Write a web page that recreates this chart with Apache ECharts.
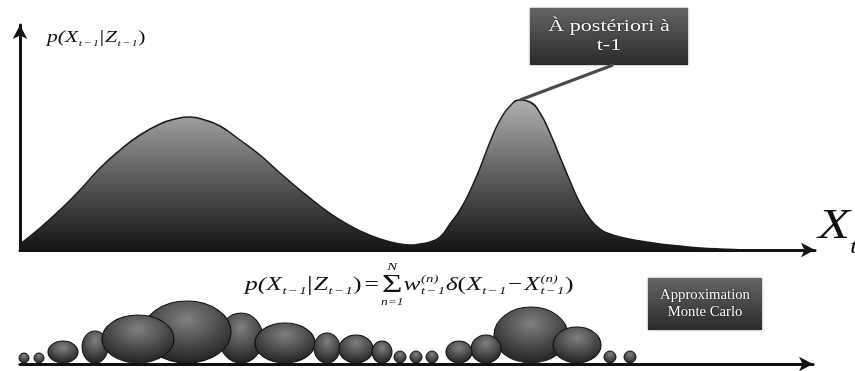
<!DOCTYPE html>
<html>
<head>
<meta charset="utf-8">
<script src="https://cdn.jsdelivr.net/npm/echarts@6/dist/echarts.min.js"></script>
<style>
html, body { margin: 0; padding: 0; background: #fff; }
#main { width: 855px; height: 371px; }
</style>
</head>
<body>
<div id="main"></div>
<script>
// densite a posteriori p(X|Z) : position sur l'axe, hauteur
var curveX = [0, 20, 40, 60, 80, 100, 120, 140, 155, 170, 185, 200, 220, 240, 260, 280, 300, 320, 340, 360, 380, 390, 400,
    410, 420, 430, 440, 450, 460, 470, 480, 490, 500, 510, 520, 530, 540, 550, 560, 570, 580, 590, 600,
    620, 640, 660, 680, 700, 740, 795];
var curveY = [6, 22, 40, 60, 82, 100, 115, 126, 131, 133, 130, 124, 110, 95, 77, 60, 44, 30, 19, 11, 6, 5, 6,
    8, 13, 26, 40, 59, 82, 108, 130, 144, 150, 148, 137, 117, 93, 69, 47, 31, 21, 16, 13,
    9, 6, 4, 2, 1, 0, 0];

// particules (Monte Carlo) : position, poids (hauteur), etalement (largeur)
var particleX = [221, 167, 75, 118, 265, 307, 336, 362, 43, 4, 19, 380, 396, 412, 511, 466, 439, 557, 590, 610];
var particleW = [50, 62, 32, 48, 40, 30, 28, 22, 22, 10, 10, 12, 12, 12, 56, 28, 22, 36, 12, 12];
var particleS = [44, 88, 26, 72, 60, 26, 34, 20, 30, 10, 10, 12, 12, 12, 74, 30, 26, 48, 12, 12];

var topLabel = ['À postériori à', 't-1'];
var bottomLabel = ['Approximation', 'Monte Carlo'];

window.onload = function () {
    var chart = echarts.init(document.getElementById('main'));
    var ctx = document.createElement('canvas').getContext('2d');
    var SERIF = '"Liberation Serif", "DejaVu Serif", serif';
    var SX = 1.35; // l'image d'origine est etiree en largeur
    var SUB = 't\u200A−\u200A1';

    function fontOf(size, up) {
        return (up ? '' : 'italic ') + size + 'px ' + SERIF;
    }
    function measure(t, size, up) {
        ctx.font = fontOf(size, up);
        return ctx.measureText(t).width * SX;
    }
    function txt(x, base, t, size, up, align) {
        return {
            type: 'text', x: x, y: base - 0.32 * size, scaleX: SX, silent: true,
            style: {
                text: t, fill: '#111', font: fontOf(size, up),
                align: align || 'left', verticalAlign: 'middle'
            }
        };
    }
    // petite mise en page de formule
    function row(x, base, k, parts, out) {
        parts.forEach(function (p) {
            var size = (p.size || 19) * k;
            var small = 11 * k;
            var w = measure(p.t, size, p.up);
            out.push(txt(x, base + (p.dy || 0) * k, p.t, size, p.up));
            if (p.over) out.push(txt(x + w / 2, base - 20 * k, p.over, small, false, 'center'));
            if (p.under) out.push(txt(x + w / 2, base + 15 * k, p.under, 10 * k, false, 'center'));
            var extra = 0;
            if (p.sub) {
                out.push(txt(x + w + 0.5, base + 4 * k, p.sub, small));
                extra = Math.max(extra, measure(p.sub, small) + 1);
            }
            if (p.sup) {
                out.push(txt(x + w + 0.5, base - 8 * k, p.sup, small));
                extra = Math.max(extra, measure(p.sup, small) + 1);
            }
            x += w + extra + (p.gap || 0) * k;
        });
        return x;
    }

    var graphics = [];
    var lhs = [
        { t: 'p(', up: false }, { t: 'X', sub: SUB }, { t: '|', size: 21, up: true, gap: 1 },
        { t: 'Z', sub: SUB }, { t: ')', up: true }
    ];
    row(47, 43, 16 / 19, lhs, graphics);
    row(245, 291, 1, lhs.concat([
        { t: '', gap: 3 }, { t: '=', up: true, gap: 3 },
        { t: 'Σ', size: 26, up: true, dy: 2, over: 'N', under: 'n=1', gap: 1 },
        { t: 'w', sub: SUB, sup: '(n)' }, { t: 'δ' }, { t: '(', up: true }, { t: 'X', sub: SUB, gap: 1 },
        { t: '−', up: true, gap: 2 }, { t: 'X', sub: SUB, sup: '(n)' }, { t: ')', up: true }
    ]), graphics);
    graphics.push(Object.assign(txt(818, 240, 'X', 42), { scaleX: 1.25 }));
    graphics.push(txt(850, 254, 't', 20));

    function box(x, y, w, h, lines, size, lh, sx) {
        graphics.push({
            type: 'rect', shape: { x: x, y: y, width: w, height: h }, silent: true,
            style: {
                fill: new echarts.graphic.LinearGradient(0, 0, 0, 1, [
                    { offset: 0, color: '#656565' }, { offset: 1, color: '#2a2a2a' }
                ]),
                shadowBlur: 2, shadowColor: 'rgba(0,0,0,0.5)'
            }
        });
        var y0 = y + h / 2 - (lines.length - 1) * lh / 2;
        lines.forEach(function (l, i) {
            graphics.push({
                type: 'text', x: x + w / 2, y: y0 + i * lh, scaleX: sx, silent: true,
                style: {
                    text: l, fill: '#fff', font: size + 'px ' + SERIF,
                    align: 'center', verticalAlign: 'middle',
                    textShadowColor: '#000', textShadowBlur: 2
                }
            });
        });
    }
    box(530, 8, 158, 57, topLabel, 17, 19, 1.3);
    box(648, 278, 114, 52, bottomLabel, 14, 17, 1.05);

    var curveData = curveX.map(function (x, i) { return [x, curveY[i]]; });
    var particleData = particleX.map(function (x, i) {
        return { value: [x, particleW[i] / 2 + 1], symbolSize: [particleS[i], particleW[i]] };
    });

    var arrowAxis = function (grid) {
        return {
            gridIndex: grid, type: 'value', min: 0,
            axisLabel: { show: false }, axisTick: { show: false }, splitLine: { show: false },
            axisLine: { show: true, symbol: ['none', 'arrow'], symbolSize: [11, 14], lineStyle: { color: '#111', width: 3 } }
        };
    };

    var option = {
        animation: false,
        backgroundColor: '#fff',
        grid: [
            { left: 20, top: 25, width: 795, height: 225 },
            { left: 20, top: 284, width: 793, height: 80 }
        ],
        xAxis: [
            Object.assign(arrowAxis(0), { max: 795 }),
            Object.assign(arrowAxis(1), { max: 793 })
        ],
        yAxis: [
            Object.assign(arrowAxis(0), { max: 225 }),
            { gridIndex: 1, type: 'value', min: 0, max: 80, show: false }
        ],
        series: [
            {
                type: 'line', xAxisIndex: 0, yAxisIndex: 0, data: curveData,
                smooth: 0.5, symbol: 'none', z: 1,
                lineStyle: { color: '#1a1a1a', width: 1.5 },
                areaStyle: {
                    opacity: 1,
                    color: new echarts.graphic.LinearGradient(0, 0, 0, 1, [
                        { offset: 0, color: '#b0b0b0' }, { offset: 0.5, color: '#5e5e5e' }, { offset: 1, color: '#151515' }
                    ])
                }
            },
            {
                type: 'scatter', xAxisIndex: 1, yAxisIndex: 1, data: particleData,
                symbol: 'circle', z: 1,
                itemStyle: {
                    opacity: 1, borderColor: '#111', borderWidth: 1,
                    color: new echarts.graphic.RadialGradient(0.5, 0.3, 0.75, [
                        { offset: 0, color: '#808080' }, { offset: 1, color: '#1a1a1a' }
                    ])
                }
            }
        ],
        graphic: graphics
    };
    chart.setOption(option);

    // trait du cadre vers le sommet du second mode
    var peak = chart.convertToPixel({ gridIndex: 0 }, [500, 150]);
    graphics.push({
        type: 'line', silent: true, z: 5,
        shape: { x1: 613, y1: 65, x2: peak[0], y2: peak[1] },
        style: { stroke: '#4a4a4a', lineWidth: 3 }
    });
    chart.setOption({ graphic: graphics });
};
</script>
</body>
</html>
